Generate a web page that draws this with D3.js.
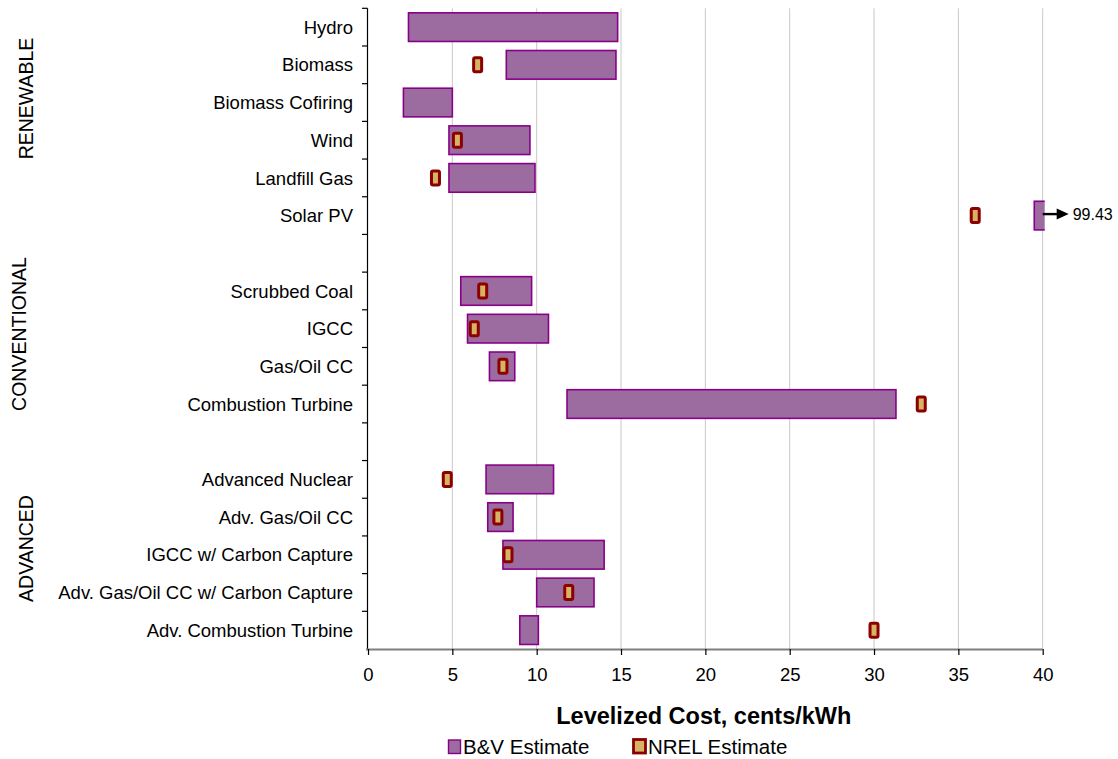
<!DOCTYPE html>
<html>
<head>
<meta charset="utf-8">
<script src="https://cdn.jsdelivr.net/npm/d3@7"></script>
<style>
  html, body { margin: 0; padding: 0; background: #fff; }
  svg { display: block; font-family: "Liberation Sans", Arial, sans-serif; }
</style>
</head>
<body>
<svg id="chart" width="1118" height="759"></svg>
<script>
// Technology rows, top to bottom; empty strings are spacer rows between groups
const categories = [
  "Hydro", "Biomass", "Biomass Cofiring", "Wind", "Landfill Gas", "Solar PV", "",
  "Scrubbed Coal", "IGCC", "Gas/Oil CC", "Combustion Turbine", "",
  "Advanced Nuclear", "Adv. Gas/Oil CC", "IGCC w/ Carbon Capture",
  "Adv. Gas/Oil CC w/ Carbon Capture", "Adv. Combustion Turbine"
];
// B&V estimate range (low / high), cents/kWh
const bvLow  = [2.4, 8.2, 2.1, 4.8, 4.8, 39.5, null, 5.5, 5.9, 7.2, 11.8, null, 7.0, 7.1, 8.0, 10.0, 9.0];
const bvHigh = [14.8, 14.7, 5.0, 9.6, 9.9, 99.43, null, 9.7, 10.7, 8.7, 31.3, null, 11.0, 8.6, 14.0, 13.4, 10.1];
// NREL point estimate, cents/kWh
const nrel   = [null, 6.5, null, 5.3, 4.0, 36.0, null, 6.8, 6.3, 8.0, 32.8, null, 4.7, 7.7, 8.3, 11.9, 30.0];
// Group labels
const groupNames = ["RENEWABLE", "CONVENTIONAL", "ADVANCED"];
// Axis ticks
const xTicks = [0, 5, 10, 15, 20, 25, 30, 35, 40];
const xDomain = [0, 40];
const seriesNames = ["B&V Estimate", "NREL Estimate"];

const svg = d3.select("#chart");
const margin = { left: 368, top: 8.3, right: 75.3 };
const W = 1118;
const pw = W - margin.left - margin.right;   // plot width
const ph = 640.7;                             // plot height

const x = d3.scaleLinear().domain(xDomain).range([0, pw]);
const y = d3.scaleBand().domain(d3.range(categories.length)).range([0, ph]).paddingInner(0.24).paddingOuter(0.12);
const step = y.step();

const COL = {
  barFill: "#9C6CA1", barStroke: "#880088",
  mkFill: "#D7B463", mkStroke: "#8B0000",
  grid: "#C8C8C8", text: "#000"
};

const g = svg.append("g").attr("transform", `translate(${margin.left},${margin.top})`);

// Vertical gridlines
g.append("g").selectAll("line").data(xTicks.filter(t => t > 0)).join("line")
  .attr("x1", d => x(d)).attr("x2", d => x(d))
  .attr("y1", 0).attr("y2", ph)
  .attr("stroke", COL.grid).attr("stroke-width", 1);

// Clip for bars running beyond the axis maximum
svg.append("defs").append("clipPath").attr("id", "plotClip")
  .append("rect").attr("x", -2).attr("y", -2).attr("width", pw + 4).attr("height", ph + 4);

// B&V range bars
const rows = d3.range(categories.length).filter(i => bvLow[i] != null);
g.append("g").attr("clip-path", "url(#plotClip)")
  .selectAll("rect").data(rows).join("rect")
  .attr("x", i => x(bvLow[i]))
  .attr("y", i => y(i))
  .attr("width", i => x(bvHigh[i]) - x(bvLow[i]))
  .attr("height", y.bandwidth())
  .attr("fill", COL.barFill)
  .attr("stroke", COL.barStroke)
  .attr("stroke-width", 1.6);

// Values beyond the axis get an arrow and a value label
const overflow = rows.filter(i => bvHigh[i] > xDomain[1]);
const ov = g.append("g").selectAll("g").data(overflow).join("g")
  .attr("transform", i => `translate(${x(xDomain[1])},${y(i) + y.bandwidth() / 2 - 1.5})`);
ov.append("line")
  .attr("x1", 0).attr("x2", 16).attr("y1", 0).attr("y2", 0)
  .attr("stroke", "#000").attr("stroke-width", 2.4);
ov.append("path")
  .attr("d", "M14,-5.5 L26,0 L14,5.5 Z")
  .attr("fill", "#000");
ov.append("text")
  .attr("x", 30).attr("y", 0)
  .attr("dy", "0.36em")
  .attr("font-size", 16)
  .text(i => bvHigh[i].toFixed(2));

// NREL point markers
const mw = 8, mh = 14;
g.append("g").selectAll("rect").data(rows.filter(i => nrel[i] != null)).join("rect")
  .attr("x", i => x(nrel[i]) - mw / 2)
  .attr("y", i => y(i) + y.bandwidth() / 2 - mh / 2)
  .attr("width", mw).attr("height", mh)
  .attr("rx", 1.5)
  .attr("fill", COL.mkFill)
  .attr("stroke", COL.mkStroke)
  .attr("stroke-width", 3);

// Y axis line and category-boundary ticks
g.append("line").attr("x1", -0.5).attr("x2", -0.5).attr("y1", 0).attr("y2", ph)
  .attr("stroke", "#000").attr("stroke-width", 1.2);
g.append("g").selectAll("line").data(d3.range(categories.length)).join("line")
  .attr("x1", -6).attr("x2", -0.5)
  .attr("y1", i => i * step).attr("y2", i => i * step)
  .attr("stroke", "#000").attr("stroke-width", 1.2);

// Category labels
g.append("g").selectAll("text").data(rows).join("text")
  .attr("x", -15)
  .attr("y", i => y(i) + y.bandwidth() / 2)
  .attr("dy", "0.36em")
  .attr("text-anchor", "end")
  .attr("font-size", 18.5)
  .attr("fill", COL.text)
  .text(i => categories[i]);

// X axis
const xAxis = g.append("g").attr("transform", `translate(0,${ph})`)
  .call(d3.axisBottom(x).tickValues(xTicks).tickSize(6).tickPadding(13).tickFormat(d3.format("d")));
xAxis.select(".domain").attr("stroke", "#7F7F7F").attr("stroke-width", 2.2).attr("d", `M-2,0.5H${pw}`);
xAxis.selectAll(".tick line").attr("stroke", "#000").attr("stroke-width", 1.2);
xAxis.selectAll(".tick text").attr("font-size", 18.5).attr("font-family", "Liberation Sans, Arial, sans-serif").attr("fill", "#000");

// Rotated group labels at the left edge
const groupY = [90.2, 325.7, 540.2];
const groupX = [26, 19, 26];
svg.append("g").selectAll("text").data(groupNames).join("text")
  .attr("transform", (d, k) => `translate(${groupX[k]},${margin.top + groupY[k]}) rotate(-90)`)
  .attr("text-anchor", "middle")
  .attr("dy", "0.36em")
  .attr("font-size", 19.5)
  .attr("fill", COL.text)
  .text(d => d);

// Axis title
svg.append("text")
  .attr("x", margin.left + pw / 2 - 1.5).attr("y", 723.5)
  .attr("text-anchor", "middle")
  .attr("font-size", 23.5).attr("font-weight", "bold")
  .text("Levelized Cost, cents/kWh");

// Legend
const leg = svg.append("g");
leg.append("rect").attr("x", 448.5).attr("y", 740).attr("width", 12).attr("height", 13.5)
  .attr("fill", COL.barFill).attr("stroke", COL.barStroke).attr("stroke-width", 1.4);
leg.append("text").attr("x", 463).attr("y", 753.5).attr("font-size", 20.5).text(seriesNames[0]);
leg.append("rect").attr("x", 633.5).attr("y", 739.5).attr("width", 12).attr("height", 13.5)
  .attr("fill", COL.mkFill).attr("stroke", COL.mkStroke).attr("stroke-width", 2.8);
leg.append("text").attr("x", 648).attr("y", 753.5).attr("font-size", 20.5).text(seriesNames[1]);
</script>
</body>
</html>
